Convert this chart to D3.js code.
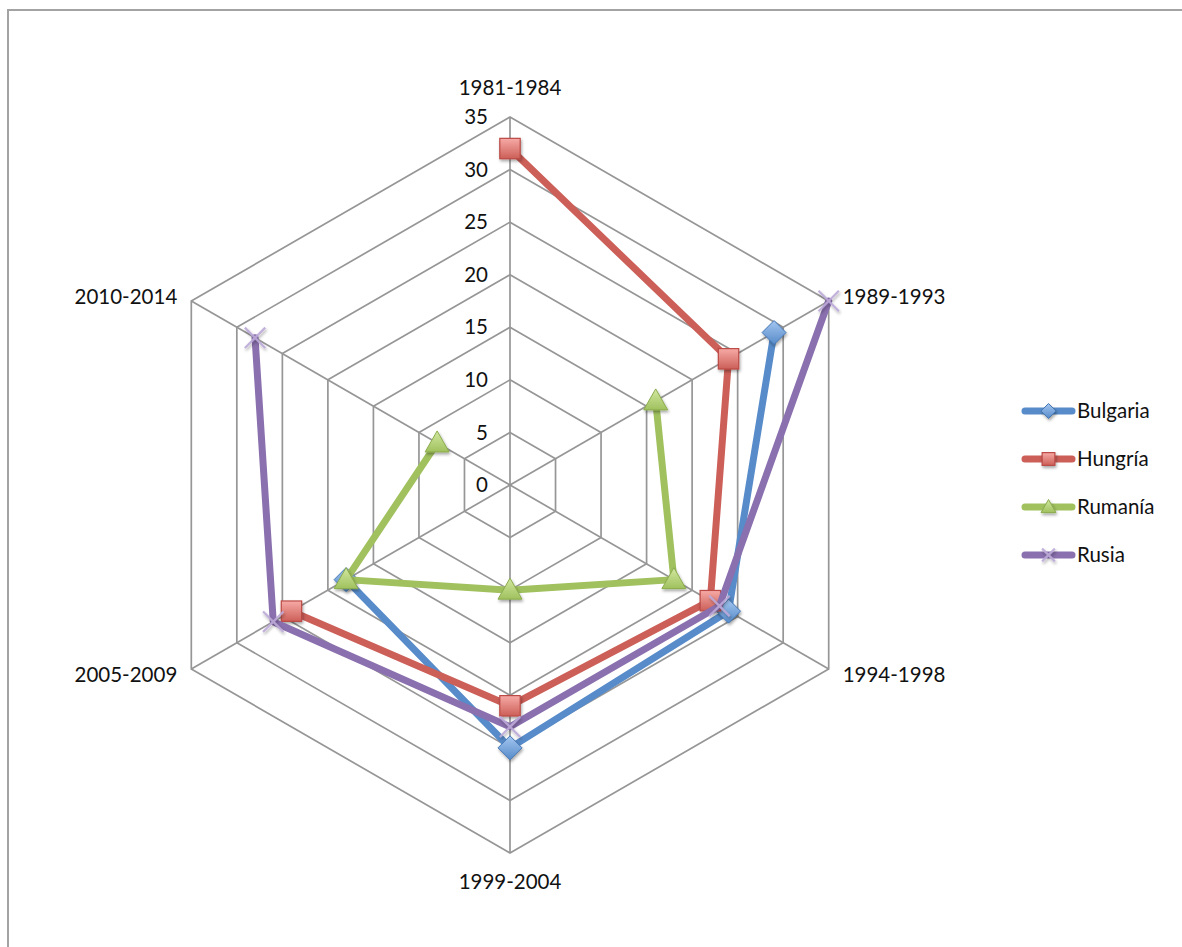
<!DOCTYPE html>
<html>
<head>
<meta charset="utf-8">
<script src="https://cdn.jsdelivr.net/npm/d3@7"></script>
<style>
  html, body { margin: 0; padding: 0; background: #fff; }
  svg { display: block; }
  text { font-family: Lato, "Open Sans", sans-serif; fill: #111; }
</style>
</head>
<body>
<svg id="chart" width="1182" height="947"></svg>
<script>
// Periods around the radar, clockwise from the top
const categories = ["1981-1984", "1989-1993", "1994-1998", "1999-2004", "2005-2009", "2010-2014"];

// Values per period (null = no data for that period)
const bulgaria = [null, 29, 24, 25, 18, null];
const hungria  = [32, 24, 22, 21, 24, null];
const rumania  = [null, 16, 18, 10, 18, 8];
const rusia    = [null, 35, 23, 23, 26, 28];

const seriesNames = ["Bulgaria", "Hungría", "Rumanía", "Rusia"];
const tickValues = [0, 5, 10, 15, 20, 25, 30, 35];

const series = [
  { name: seriesNames[0], values: bulgaria, color: "#578bc9", light: "#a3c6f0", dark: "#4577b5", marker: "diamond" },
  { name: seriesNames[1], values: hungria,  color: "#cc5f58", light: "#f7aaa6", dark: "#bb4a45", marker: "square" },
  { name: seriesNames[2], values: rumania,  color: "#a0c15e", light: "#d2e8a0", dark: "#8bac4d", marker: "triangle" },
  { name: seriesNames[3], values: rusia,    color: "#8a70ae", light: "#bcaad8", dark: "#8a70ae", marker: "x" }
];

const svg = d3.select("#chart");
const cx = 510, cy = 485;
const r = d3.scaleLinear().domain([0, 35]).range([0, 368]);
const angle = i => i * Math.PI / 3;
const px = (i, v) => cx + r(v) * Math.sin(angle(i));
const py = (i, v) => cy - r(v) * Math.cos(angle(i));

// Defs: marker gradients and soft shadow
const defs = svg.append("defs");
series.forEach((s, k) => {
  const g = defs.append("linearGradient").attr("id", "grad" + k)
    .attr("x1", 0).attr("y1", 0).attr("x2", 0).attr("y2", 1);
  g.append("stop").attr("offset", "0%").attr("stop-color", s.light);
  g.append("stop").attr("offset", "100%").attr("stop-color", s.color);
});
const shadow = defs.append("filter").attr("id", "shadow")
  .attr("x", "-50%").attr("y", "-50%").attr("width", "200%").attr("height", "200%");
shadow.append("feDropShadow").attr("dx", 1).attr("dy", 2)
  .attr("stdDeviation", 1.5).attr("flood-color", "#000").attr("flood-opacity", 0.35);

// Chart frame
svg.append("rect")
  .attr("x", 8).attr("y", 10).attr("width", 1200).attr("height", 960)
  .attr("fill", "none").attr("stroke", "#a3a3a3").attr("stroke-width", 2);

// Grid: hexagonal rings and spokes
const grid = svg.append("g").attr("stroke", "#969696").attr("stroke-width", 1.7).attr("fill", "none");
const ringLine = d3.lineRadial().angle((d, i) => angle(i)).radius(d => r(d)).curve(d3.curveLinearClosed);
tickValues.filter(t => t > 0).forEach(t => {
  grid.append("path")
    .attr("transform", `translate(${cx},${cy})`)
    .attr("d", ringLine(categories.map(() => t)));
});
categories.forEach((c, i) => {
  grid.append("line")
    .attr("x1", cx).attr("y1", cy)
    .attr("x2", px(i, 35)).attr("y2", py(i, 35));
});

// Value labels along the top spoke
svg.append("g").selectAll("text").data(tickValues).join("text")
  .attr("x", cx - 22)
  .attr("y", d => py(0, d))
  .attr("dy", "0.35em")
  .attr("text-anchor", "end")
  .attr("font-size", 20.5)
  .text(d => d);

// Category labels
const catPos = [
  { dx: 0, dy: -29, anchor: "middle" },
  { dx: 14, dy: -4, anchor: "start" },
  { dx: 14, dy: 6, anchor: "start" },
  { dx: 0, dy: 29, anchor: "middle" },
  { dx: -14, dy: 6, anchor: "end" },
  { dx: -14, dy: -4, anchor: "end" }
];
svg.append("g").selectAll("text").data(categories).join("text")
  .attr("x", (d, i) => px(i, 35) + catPos[i].dx)
  .attr("y", (d, i) => py(i, 35) + catPos[i].dy)
  .attr("dy", "0.35em")
  .attr("text-anchor", (d, i) => catPos[i].anchor)
  .attr("font-size", 20.5)
  .text(d => d);

// Marker drawing
function drawMarker(g, s, k, x, y, size) {
  const h = size / 2;
  if (s.marker === "diamond") {
    g.append("path")
      .attr("d", `M${x},${y - h}L${x + h},${y}L${x},${y + h}L${x - h},${y}Z`)
      .attr("fill", `url(#grad${k})`).attr("stroke", s.dark).attr("stroke-width", 1)
      .attr("filter", "url(#shadow)");
  } else if (s.marker === "square") {
    const a = h * 0.85;
    g.append("rect")
      .attr("x", x - a).attr("y", y - a).attr("width", 2 * a).attr("height", 2 * a)
      .attr("fill", `url(#grad${k})`).attr("stroke", s.dark).attr("stroke-width", 1.2)
      .attr("filter", "url(#shadow)");
  } else if (s.marker === "triangle") {
    g.append("path")
      .attr("d", `M${x},${y - h}L${x + h},${y + h * 0.75}L${x - h},${y + h * 0.75}Z`)
      .attr("fill", `url(#grad${k})`).attr("stroke", s.dark).attr("stroke-width", 1)
      .attr("filter", "url(#shadow)");
  } else {
    const a = h * 0.85;
    g.append("path")
      .attr("d", `M${x - a},${y - a}L${x + a},${y + a}M${x - a},${y + a}L${x + a},${y - a}`)
      .attr("stroke", s.light).attr("stroke-width", 2.2).attr("stroke-opacity", 0.9)
      .attr("fill", "none").attr("filter", "url(#shadow)");
  }
}

// Series lines and markers
const seriesLine = d3.lineRadial()
  .defined(d => d != null)
  .angle((d, i) => angle(i))
  .radius(d => r(d));

series.forEach((s, k) => {
  const g = svg.append("g");
  g.append("path")
    .attr("transform", `translate(${cx},${cy})`)
    .attr("d", seriesLine(s.values))
    .attr("fill", "none")
    .attr("stroke", s.color)
    .attr("stroke-width", 7)
    .attr("stroke-linejoin", "round")
    .attr("stroke-linecap", "round");
  s.values.forEach((v, i) => {
    if (v == null) return;
    drawMarker(g, s, k, px(i, v), py(i, v), 24);
  });
});

// Legend
const legend = svg.append("g");
series.forEach((s, k) => {
  const y = 411 + k * 48;
  const g = legend.append("g");
  g.append("line")
    .attr("x1", 1025).attr("x2", 1072).attr("y1", y).attr("y2", y)
    .attr("stroke", s.color).attr("stroke-width", 7).attr("stroke-linecap", "round");
  drawMarker(g, s, k, 1048.5, y, 15);
  g.append("text")
    .attr("x", 1077).attr("y", y).attr("dy", "0.35em")
    .attr("font-size", 20.5)
    .text(s.name);
});
</script>
</body>
</html>
